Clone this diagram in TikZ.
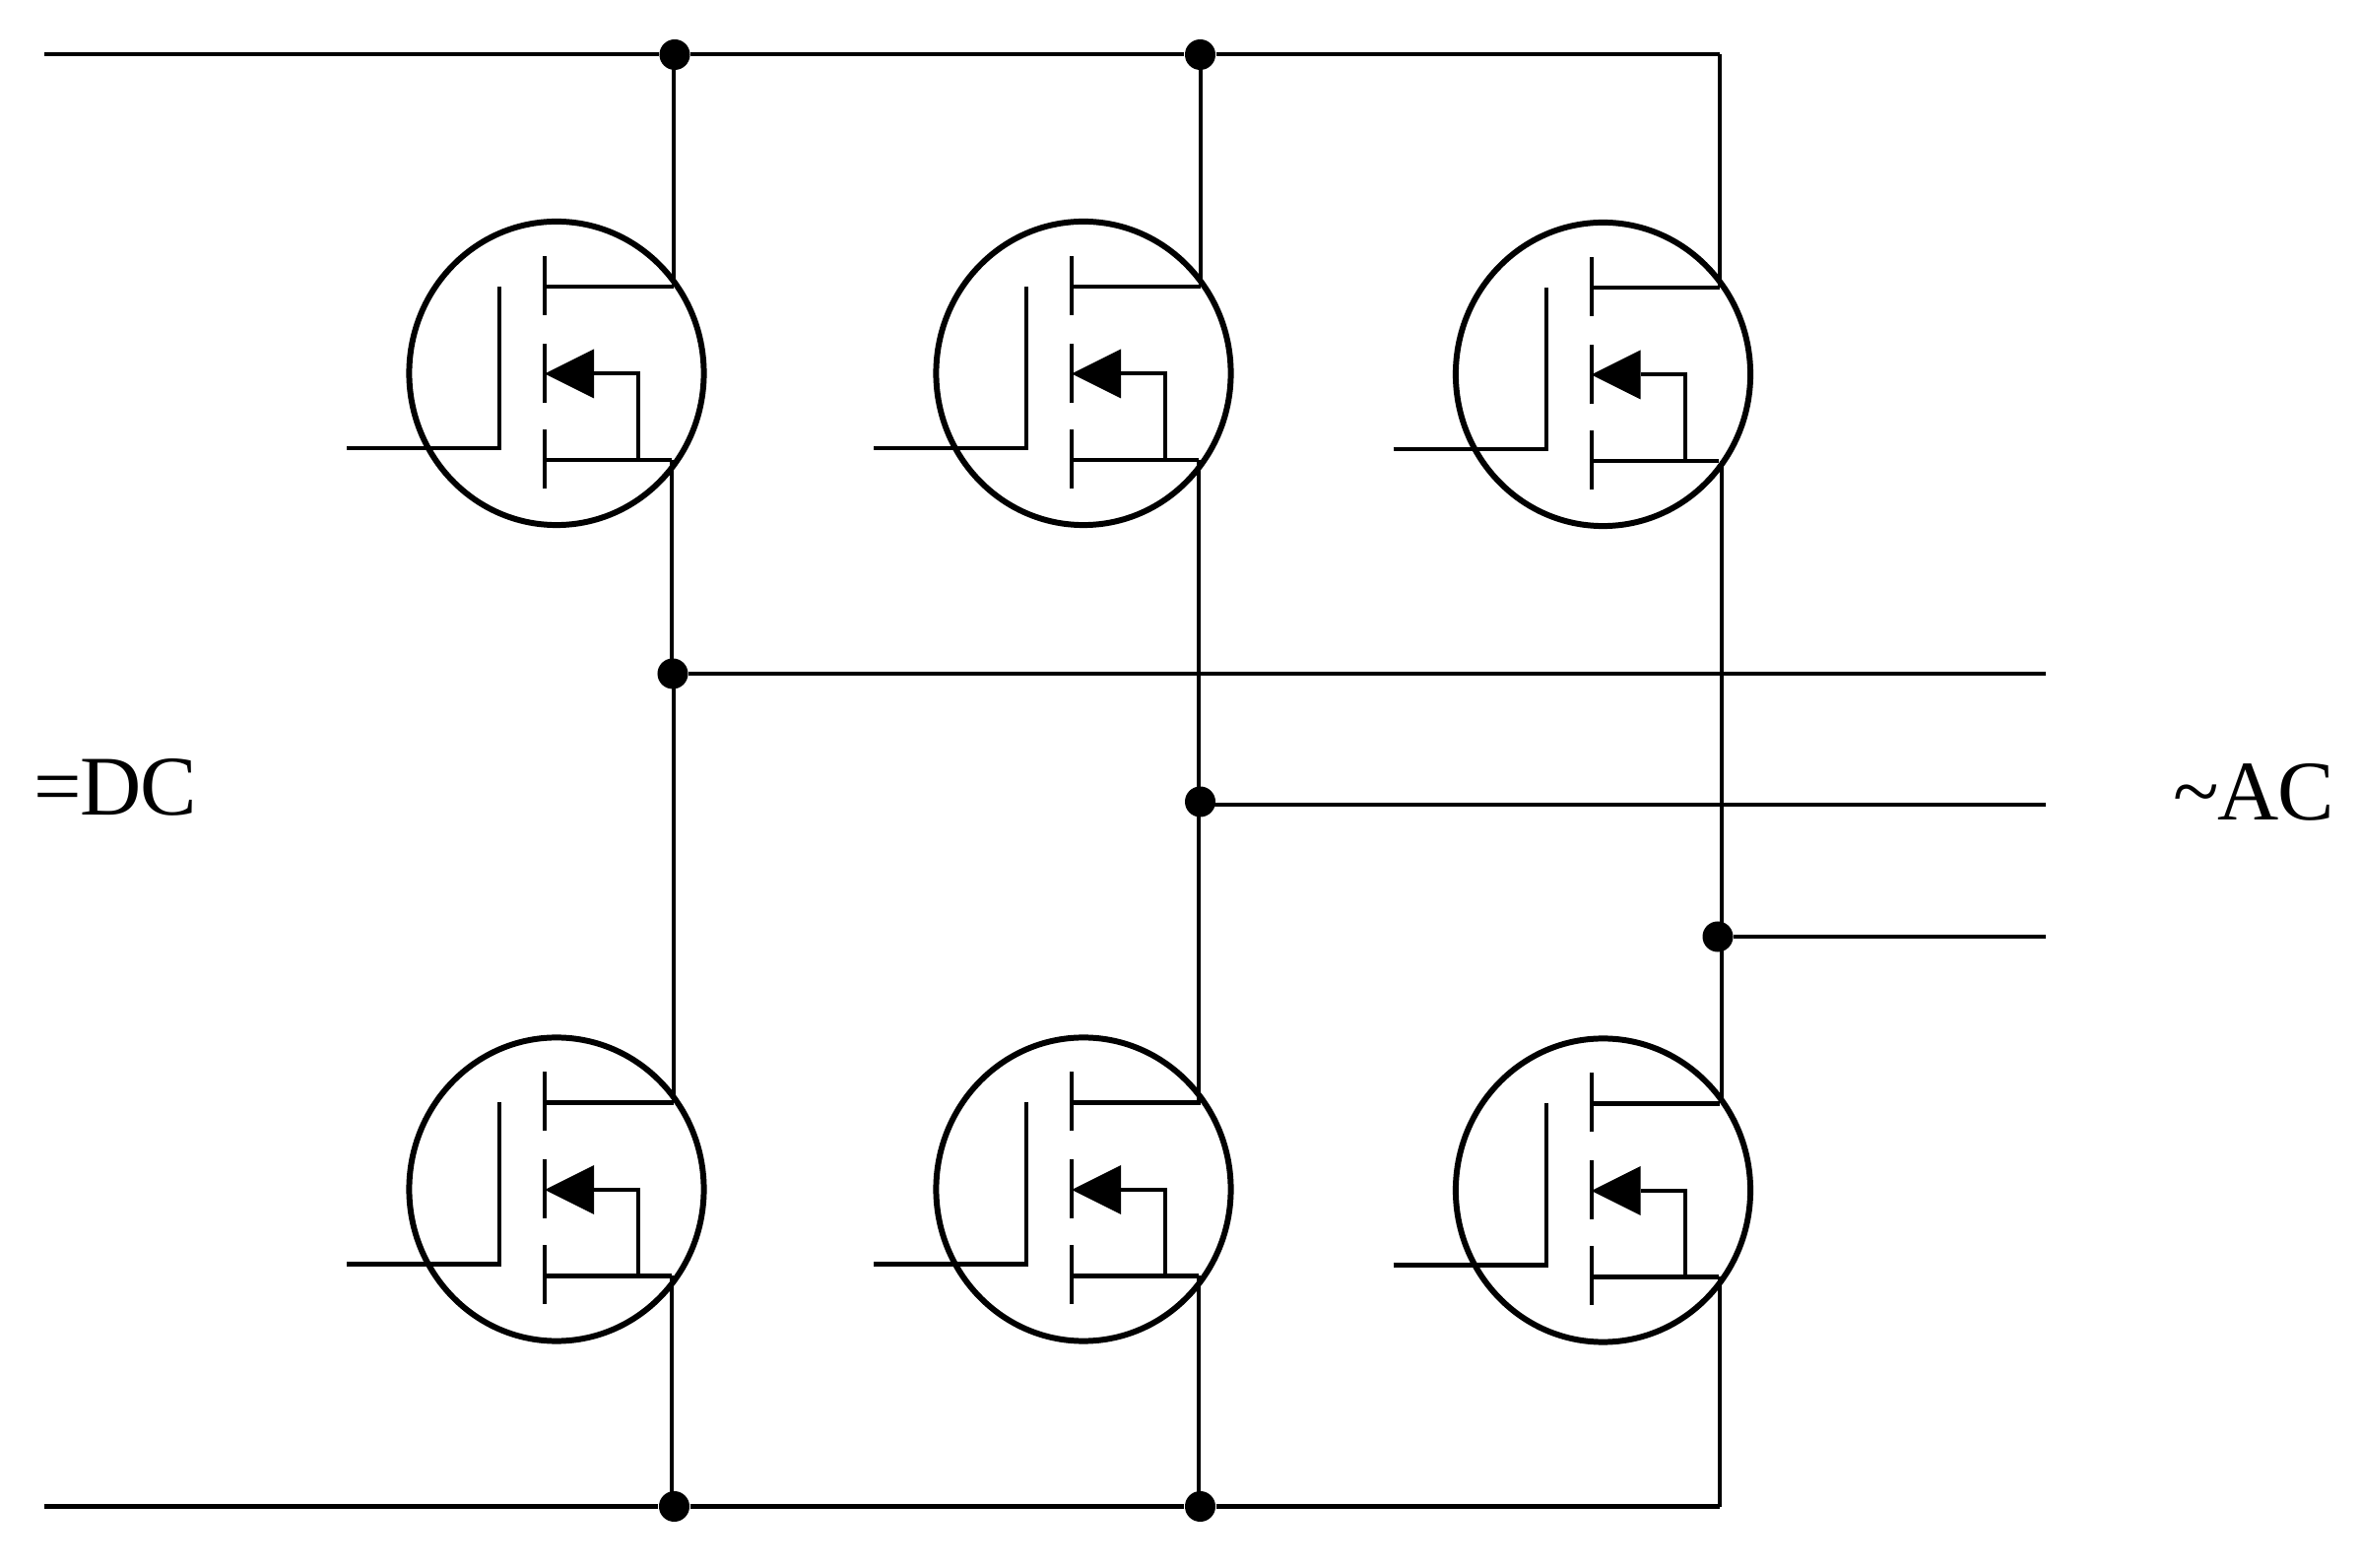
\documentclass[tikz,border=0pt]{standalone}
\usepackage{fontspec}
\setmainfont{Liberation Serif}
\usetikzlibrary{shapes.geometric}
\tikzset{
  wire/.style={line width=1.14pt,line cap=butt,black},
  ring/.style={ellipse,draw=black,line width=1.7pt,inner sep=0pt,minimum width=2.99cm,minimum height=3.08cm},
  junction/.style={circle,fill=black,inner sep=0pt,minimum size=0.31cm},
  tip/.style={fill=black,draw=none},
  bigtext/.style={anchor=base west,inner sep=0pt,font=\fontsize{24.5}{28}\selectfont}
}
\newcommand{\mosfet}[3]{%
  \begin{scope}[shift={(#2,#3)}]
    \node[ring] (#1c) at (0,0) {};
    \coordinate (#1gin) at (-213,76);
    \coordinate (#1gb) at (-58,76);
    \coordinate (#1gt) at (-58,-88);
    \coordinate (#1at) at (-12,-119);
    \coordinate (#1ab) at (-12,-59);
    \coordinate (#1bt) at (-12,-30);
    \coordinate (#1bb) at (-12,30);
    \coordinate (#1ct) at (-12,57);
    \coordinate (#1cb) at (-12,117);
    \coordinate (#1dl) at (-12,-88);
    \coordinate (#1d) at (118.5,-88);
    \coordinate (#1sl) at (-12,88);
    \coordinate (#1s) at (117,88);
    \coordinate (#1k) at (38,0.5);
    \coordinate (#1j) at (83,0.5);
    \coordinate (#1jb) at (83,88);
    \draw[wire] (#1gin) -- (#1gb) -- (#1gt);
    \draw[wire] (#1at) -- (#1ab);
    \draw[wire] (#1bt) -- (#1bb);
    \draw[wire] (#1ct) -- (#1cb);
    \draw[wire] (#1dl) -- (#1d);
    \draw[wire] (#1sl) -- (#1s);
    \draw[wire] (#1k) -- (#1j) -- (#1jb);
    \fill[tip] (-12,0.5) -- (38,-24.5) -- (38,25.5) -- cycle;
  \end{scope}}
\begin{document}
\begin{tikzpicture}[x=0.01cm,y=-0.01cm]
\useasboundingbox (0,0) rectangle (2396,1592);
\fill[white] (0,0) rectangle (2396,1592);

\mosfet{a}{565}{379}
\mosfet{b}{1100}{379}
\mosfet{c}{1627.5}{380}
\mosfet{d}{565}{1207.5}
\mosfet{e}{1100}{1207.5}
\mosfet{f}{1627.5}{1208.5}

\coordinate (tl) at (45,55.5);
\coordinate (tr) at (1746,55.5);
\coordinate (bl) at (45,1529.5);
\coordinate (br) at (1746,1529.5);
\coordinate (o1) at (2077,684);
\coordinate (o2) at (2077,817);
\coordinate (o3) at (2077,951);
\coordinate (cv1) at (1748,468);
\coordinate (cv2) at (1748,1120);

\node[junction] (t1) at (685,55.5) {};
\node[junction] (t2) at (1218.5,55.5) {};
\node[junction] (b1) at (684.5,1529.5) {};
\node[junction] (b2) at (1218.5,1529.5) {};
\node[junction] (m1) at (683,684) {};
\node[junction] (m2) at (1218.5,814) {};
\node[junction] (m3) at (1744,951) {};

\draw[wire] (tl) -- (t1) -- (t2) -- (tr);
\draw[wire] (bl) -- (b1) -- (b2) -- (br);
\draw[wire] (ad |- tl) -- (ad);
\draw[wire] (bd |- tl) -- (bd);
\draw[wire] (tr) -- (tr |- cd);
\draw[wire] (as) -- (as |- m1);
\draw[wire] (dd |- m1) -- (dd);
\draw[wire] (ds) -- (ds |- bl);
\draw[wire] (bs) -- (bs |- ed);
\draw[wire] (es) -- (es |- bl);
\draw[wire] (cv1) -- (cv2);
\draw[wire] (br |- fs) -- (br);
\draw[wire] (m1) -- (o1);
\draw[wire] (m2.center |- o2) -- (o2);
\draw[wire] (m3) -- (o3);

\node[bigtext] (dc) at (34,828) {=\kern-0.02em D\kern-0.02em C};
\node[bigtext] (ac) at (2206,833) {\char"007E\kern-0.02em A\kern-0.02em C};
\end{tikzpicture}
\end{document}
